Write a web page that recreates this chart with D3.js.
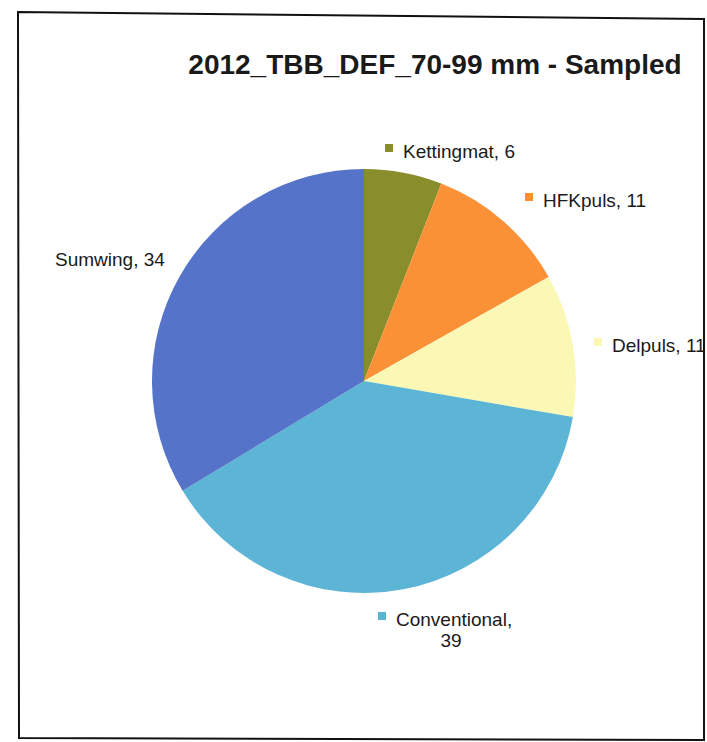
<!DOCTYPE html>
<html>
<head>
<meta charset="utf-8">
<script src="https://cdn.jsdelivr.net/npm/d3@7"></script>
<style>
  body { margin: 0; background: #fff; }
  text { font-family: "Liberation Sans", Arial, sans-serif; fill: #1a1a1a; }
  .title { font-weight: bold; font-size: 28px; }
  .label { font-size: 19px; }
</style>
</head>
<body>
<script>
// slices clockwise from 12 o'clock
const categories = ["Kettingmat", "HFKpuls", "Delpuls", "Conventional", "Sumwing"];
const values = [6, 11, 11, 39, 34];
const colors = ["#8a8d2c", "#fb9137", "#fbf8b6", "#5db5d6", "#5573c8"];
const titleText = "2012_TBB_DEF_70-99 mm - Sampled";

// label placement (same order as categories)
const labelPos = [
  { x: 403, y: 158, marker: true },
  { x: 543, y: 207, marker: true },
  { x: 612, y: 352, marker: true },
  { x: 396, y: 626, marker: true, wrap: true },
  { x: 55, y: 266, marker: false }
];

const width = 707, height = 742;
const cx = 364, cy = 381, radius = 212;

const svg = d3.select("body").append("svg")
  .attr("width", width)
  .attr("height", height);

// scanned frame, slightly skewed
svg.append("path")
  .attr("d", "M18,12 L704,19 L704,740 L19,738 Z")
  .attr("fill", "none")
  .attr("stroke", "#111")
  .attr("stroke-width", 2);

svg.append("text")
  .attr("class", "title")
  .attr("x", 435)
  .attr("y", 74)
  .attr("text-anchor", "middle")
  .text(titleText);

const data = categories.map((name, i) => ({ name, value: values[i], i }));

const color = d3.scaleOrdinal().domain(categories).range(colors);

const pie = d3.pie().value(d => d.value).sort(null);
const arc = d3.arc().innerRadius(0).outerRadius(radius);

const g = svg.append("g").attr("transform", `translate(${cx},${cy})`);

g.selectAll("path")
  .data(pie(data))
  .join("path")
  .attr("d", arc)
  .attr("fill", d => color(d.data.name));

const labels = svg.append("g");

data.forEach((d, i) => {
  const p = labelPos[i];
  const lg = labels.append("g");
  if (p.marker) {
    lg.append("rect")
      .attr("x", p.x - 18)
      .attr("y", p.y - 14)
      .attr("width", 8)
      .attr("height", 8)
      .attr("fill", color(d.name));
  }
  if (p.wrap) {
    lg.append("text").attr("class", "label")
      .attr("x", p.x).attr("y", p.y)
      .text(`${d.name},`);
    lg.append("text").attr("class", "label")
      .attr("x", p.x + 55).attr("y", p.y + 21)
      .attr("text-anchor", "middle")
      .text(d.value);
  } else {
    lg.append("text").attr("class", "label")
      .attr("x", p.x).attr("y", p.y)
      .text(`${d.name}, ${d.value}`);
  }
});
</script>
</body>
</html>
